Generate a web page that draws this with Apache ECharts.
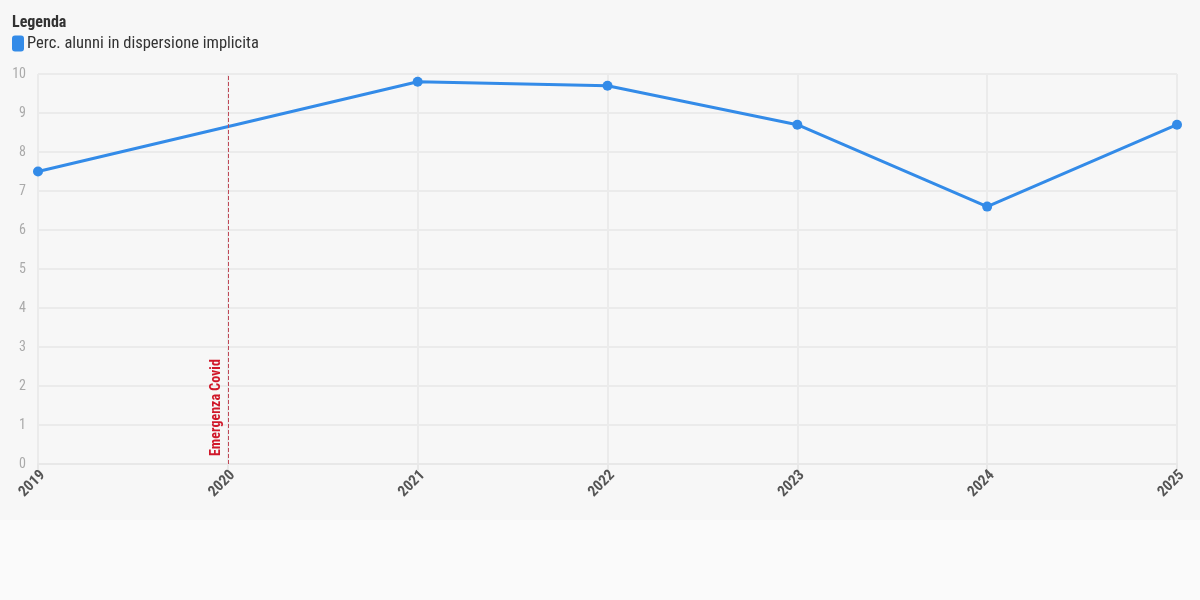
<!DOCTYPE html>
<html><head><meta charset="utf-8">
<script src="https://cdn.jsdelivr.net/npm/echarts@6/dist/echarts.min.js"></script>
<style>html,body{margin:0;padding:0;background:#fafafa;}#c{width:1200px;height:520px;background:#f7f7f7;}</style>
</head><body><div id="c"></div>
<script>
const years = ['2019','2020','2021','2022','2023','2024','2025'];
const values = [7.5, null, 9.8, 9.7, 8.7, 6.6, 8.7];
const seriesName = 'Perc. alunni in dispersione implicita';
const markYear = '2020';
const markLabel = 'Emergenza Covid';
const FONT = '"Roboto Condensed","DejaVu Sans Condensed",Roboto,sans-serif';
const chart = echarts.init(document.getElementById('c'));
chart.setOption({
  backgroundColor: '#f7f7f7',
  textStyle: {fontFamily: FONT},
  title: {text: 'Legenda', left: 7, top: 10, textStyle: {fontFamily: FONT, fontSize: 16, fontWeight: 'bold', color: '#333'}},
  legend: {left: 7, top: 30, itemWidth: 12, itemHeight: 16, itemGap: 10, icon: 'roundRect',
    textStyle: {fontFamily: FONT, fontSize: 16.5, color: '#333', padding: [0,0,0,-2]}, data: [seriesName]},
  grid: {left: 38, right: 23, top: 74, bottom: 56, containLabel: false},
  xAxis: {type: 'category', data: years, boundaryGap: false,
    axisLine: {lineStyle: {color: '#e8e8e8', width: 2}},
    axisTick: {show: true, length: 6, lineStyle: {color: '#e8e8e8', width: 2}},
    axisLabel: {rotate: 45, color: '#555', fontWeight: 'bold', fontSize: 15, fontFamily: FONT, margin: 14, padding: [0,-7,0,0]},
    splitLine: {show: true, lineStyle: {color: '#ebebeb', width: 2}}},
  yAxis: {type: 'value', min: 0, max: 10, interval: 1,
    axisLine: {show: false}, axisTick: {show: false},
    axisLabel: {color: '#aaa', fontSize: 14, fontFamily: FONT, margin: 12},
    splitLine: {lineStyle: {color: '#ebebeb', width: 2}}},
  series: [{
    name: seriesName, type: 'line', data: values, connectNulls: true,
    color: '#338be8', lineStyle: {width: 3}, symbol: 'circle', symbolSize: 10,
    markLine: {silent: true, symbol: 'none',
      lineStyle: {color: '#c04a58', type: [4,2], width: 1},
      label: {show: true, formatter: markLabel, position: 'insideStartTop', distance: [8, 4], color: '#d0182a', fontWeight: 'bold', fontSize: 14, fontFamily: FONT},
      data: [{xAxis: markYear}]}
  }]
});
</script></body></html>
